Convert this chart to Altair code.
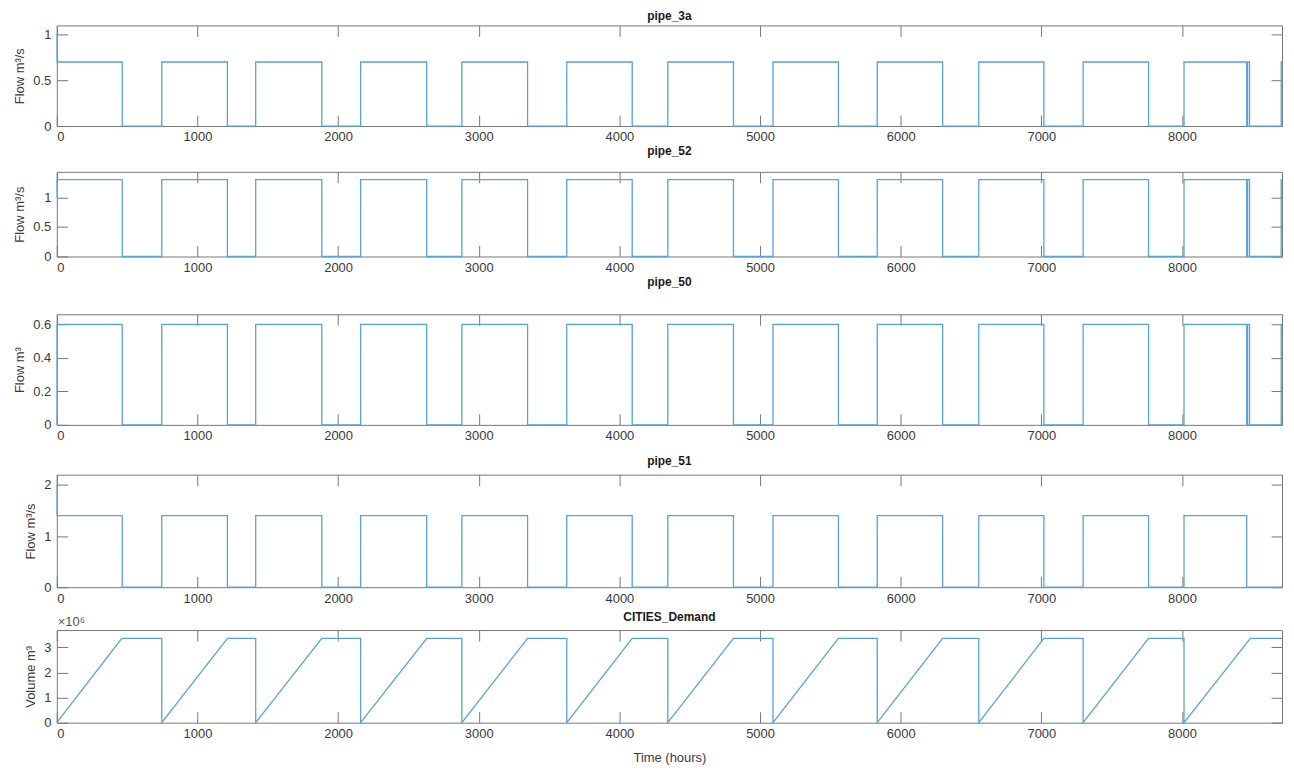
import altair as alt
import pandas as pd

# ---------------- data ----------------
# switch times (hours) for the three pipes that end with a short re-opening
switch_hours = [0, 2, 465, 746, 1213, 1414, 1884, 2160, 2630, 2880, 3347, 3626,
                4091, 4344, 4811, 5092, 5557, 5833, 6298, 6555, 7018, 7297,
                7762, 8014, 8460, 8466, 8480, 8705, 8711]
pipe_3a_flow = [1.0, 0.7, 0, 0.7, 0, 0.7, 0, 0.7, 0, 0.7, 0, 0.7,
                0, 0.7, 0, 0.7, 0, 0.7, 0, 0.7, 0, 0.7,
                0, 0.7, 0, 0.7, 0, 0.7, 0.7]
pipe_52_flow = [1.0, 1.3, 0, 1.3, 0, 1.3, 0, 1.3, 0, 1.3, 0, 1.3,
                0, 1.3, 0, 1.3, 0, 1.3, 0, 1.3, 0, 1.3,
                0, 1.3, 0, 1.3, 0, 1.3, 1.3]
pipe_50_flow = [0.0, 0.6, 0, 0.6, 0, 0.6, 0, 0.6, 0, 0.6, 0, 0.6,
                0, 0.6, 0, 0.6, 0, 0.6, 0, 0.6, 0, 0.6,
                0, 0.6, 0, 0.6, 0, 0.6, 0.6]

pipe_51_hours = [0, 2, 465, 746, 1213, 1414, 1884, 2160, 2630, 2880, 3347, 3626,
                 4091, 4344, 4811, 5092, 5557, 5833, 6298, 6555, 7018, 7297,
                 7762, 8014, 8460, 8711]
pipe_51_flow = [2.0, 1.4, 0, 1.4, 0, 1.4, 0, 1.4, 0, 1.4, 0, 1.4,
                0, 1.4, 0, 1.4, 0, 1.4, 0, 1.4, 0, 1.4,
                0, 1.4, 0, 0]

demand_hours = [0, 462, 746, 746, 1213, 1414, 1414, 1884, 2160, 2160, 2630, 2880,
                2880, 3347, 3626, 3626, 4091, 4344, 4344, 4811, 5092, 5092, 5557,
                5833, 5833, 6298, 6555, 6555, 7018, 7297, 7297, 7762, 8014, 8014,
                8486, 8711]
demand_volume_1e6 = [0, 3.35, 3.35, 0, 3.35, 3.35, 0, 3.35, 3.35, 0, 3.35, 3.35,
                     0, 3.35, 3.35, 0, 3.35, 3.35, 0, 3.35, 3.35, 0, 3.35,
                     3.35, 0, 3.35, 3.35, 0, 3.35, 3.35, 0, 3.35, 3.35, 0,
                     3.35, 3.35]

x_ticks = [0, 1000, 2000, 3000, 4000, 5000, 6000, 7000, 8000]
X_MAX = 8711

BLUE = "#55a3da"
AX = "#777777"
LBL = "#3a3a3a"
FONT = "Liberation Sans"
TS = 11


def frame(h, v):
    return pd.DataFrame({"t": h, "v": v, "i": list(range(len(h)))})


def panel(df, title, ytitle, ymax, yticks, height, toff, interp,
          xtitle=None, xtitle_size=13, xtitle_pad=5, extra=None):
    xs = alt.Scale(domain=[0, X_MAX], nice=False, zero=False)
    ys = alt.Scale(domain=[0, ymax], nice=False, zero=False)
    base = alt.Chart(df)
    xaxis = dict(values=x_ticks, orient="bottom", offset=-TS, tickSize=TS,
                 domain=False, grid=False, labelPadding=5, format="d",
                 titlePadding=xtitle_pad, titleFontSize=xtitle_size)
    xaxis["title"] = xtitle
    main = base.mark_line(color=BLUE, strokeWidth=1.3, interpolate=interp).encode(
        x=alt.X("t:Q", scale=xs, axis=alt.Axis(**xaxis)),
        y=alt.Y("v:Q", scale=ys,
                axis=alt.Axis(values=yticks, orient="left", offset=-TS, tickSize=TS,
                              domain=False, grid=False, labelPadding=6, format="~g",
                              title=ytitle, titlePadding=6)),
        order="i:Q",
    )
    mirror = base.mark_line(opacity=0).encode(
        x=alt.X("t:Q", scale=xs,
                axis=alt.Axis(values=x_ticks, orient="top", offset=-TS, tickSize=TS,
                              domain=False, grid=False, labels=False, title=None)),
        y=alt.Y("v:Q", scale=ys,
                axis=alt.Axis(values=yticks, orient="right", offset=-TS, tickSize=TS,
                              domain=False, grid=False, labels=False, title=None)),
        order="i:Q",
    )
    layers = [main, mirror]
    if extra is not None:
        layers.append(extra)
    return alt.layer(*layers).resolve_axis(x="independent", y="independent").properties(
        width=1230, height=height,
        title=alt.TitleParams(title, fontSize=12, fontWeight="bold", font=FONT,
                              color="#1a1a1a", offset=toff, anchor="middle"),
    )


exp_label = alt.Chart(pd.DataFrame({"s": ["×10⁶"]})).mark_text(
    align="left", baseline="bottom", font=FONT, fontSize=13, color="#555555"
).encode(x=alt.value(1), y=alt.value(-1), text="s:N")

p1 = panel(frame(switch_hours, pipe_3a_flow), "pipe_3a", "Flow m³/s", 1.1,
           [0, 0.5, 1], 101, 2, "step-after")
p2 = panel(frame(switch_hours, pipe_52_flow), "pipe_52", "Flow m³/s", 1.43,
           [0, 0.5, 1], 85, 13, "step-after")
p3 = panel(frame(switch_hours, pipe_50_flow), "pipe_50", "Flow m³", 0.66,
           [0, 0.2, 0.4, 0.6], 111, 25, "step-after",
           xtitle=" ", xtitle_size=12, xtitle_pad=0)
p4 = panel(frame(pipe_51_hours, pipe_51_flow), "pipe_51", "Flow m³/s", 2.2,
           [0, 1, 2], 113, 6, "step-after",
           xtitle=" ", xtitle_size=4, xtitle_pad=0)
p5 = panel(frame(demand_hours, demand_volume_1e6), "CITIES_Demand", "Volume m³", 3.685,
           [0, 1, 2, 3], 93, -8, "linear", xtitle="Time (hours)", xtitle_pad=11,
           extra=exp_label)

chart = alt.vconcat(p1, p2, p3, p4, p5, spacing=0).properties(
    padding={"left": 5, "top": 0, "right": 0, "bottom": 0}
).configure(background="white").configure_view(
    stroke=AX, strokeWidth=1
).configure_axis(
    labelFont=FONT, titleFont=FONT, labelFontSize=13, titleFontSize=13,
    labelColor=LBL, titleColor=LBL, tickColor=AX, tickWidth=1,
    titleFontWeight="normal",
)

chart.save("out.html", embed_options={"renderer": "svg", "actions": False})
